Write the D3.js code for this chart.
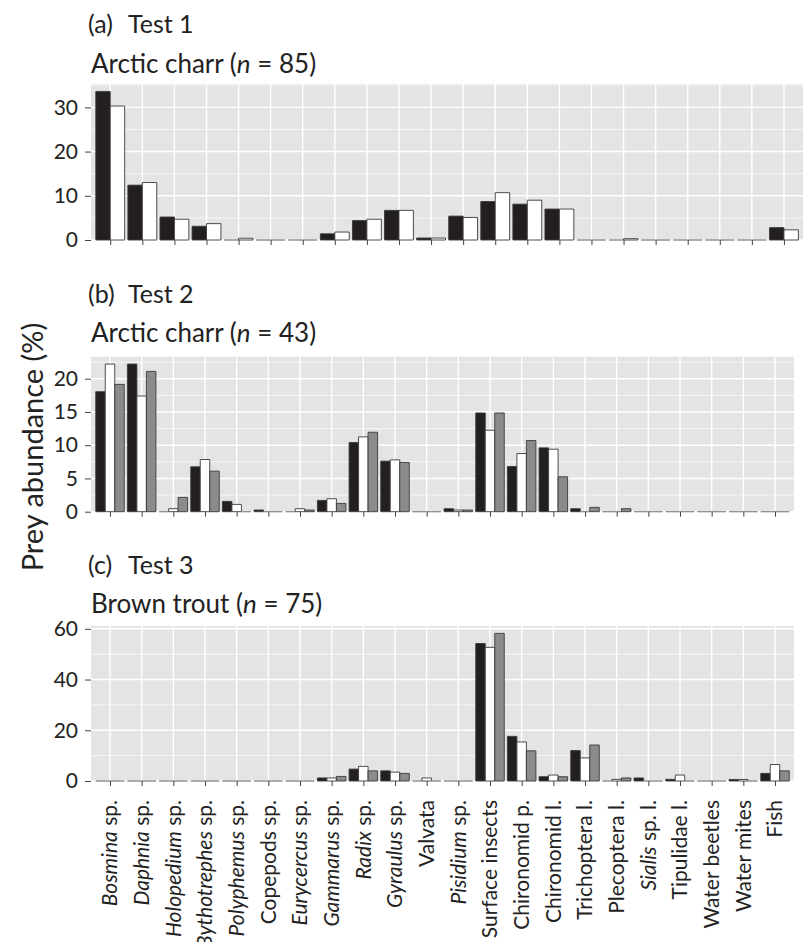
<!DOCTYPE html>
<html>
<head>
<meta charset="utf-8">
<script src="https://cdn.jsdelivr.net/npm/d3@7"></script>
<style>
  body { margin: 0; background: #fff; }
  svg { font-family: Lato, sans-serif; display: block; }
</style>
</head>
<body>
<svg id="chart" width="803" height="942"></svg>
<script>
const categories = ['Bosmina sp.', 'Daphnia sp.', 'Holopedium sp.', 'Bythotrephes sp.', 'Polyphemus sp.',
  'Copepods sp.', 'Eurycercus sp.', 'Gammarus sp.', 'Radix sp.', 'Gyraulus sp.', 'Valvata', 'Pisidium sp.',
  'Surface insects', 'Chironomid p.', 'Chironomid l.', 'Trichoptera l.', 'Plecoptera l.', 'Sialis sp. l.',
  'Tipulidae l.', 'Water beetles', 'Water mites', 'Fish']
const italicWords = ['Bosmina', 'Daphnia', 'Holopedium', 'Bythotrephes', 'Polyphemus', 'Eurycercus',
  'Gammarus', 'Radix', 'Gyraulus', 'Pisidium', 'Sialis']

// test 1, arctic charr, two series
const test1Black = [33.6, 12.4, 5.2, 3.1, 0, 0, 0, 1.4, 4.4, 6.7, 0.45, 5.4, 8.7, 8.1, 7.0, 0, 0, 0, 0, 0, 0, 2.8]
const test1White = [30.3, 13.0, 4.7, 3.7, 0.4, 0, 0, 1.8, 4.7, 6.7, 0.45, 5.1, 10.7, 9.0, 7.0, 0, 0.3, 0, 0, 0, 0, 2.3]

// test 2, arctic charr, three series
const test2Black = [18.05, 22.2, 0, 6.75, 1.55, 0.25, 0, 1.7, 10.4, 7.6, 0, 0.45, 14.85, 6.8, 9.6, 0.45, 0, 0, 0, 0, 0, 0]
const test2White = [22.2, 17.4, 0.45, 7.85, 1.1, 0, 0.45, 1.95, 11.25, 7.8, 0, 0.25, 12.25, 8.75, 9.4, 0, 0, 0, 0, 0, 0, 0]
const test2Gray = [19.15, 21.1, 2.15, 6.1, 0, 0, 0.25, 1.25, 11.95, 7.4, 0, 0.25, 14.85, 10.7, 5.25, 0.65, 0.45, 0, 0, 0, 0, 0]

// test 3, brown trout, three series
const test3Black = [0, 0, 0, 0, 0, 0, 0, 1.2, 4.7, 4.0, 0, 0, 54.2, 17.6, 1.7, 12.0, 0, 1.2, 0.65, 0, 0.6, 3.0]
const test3White = [0, 0, 0, 0, 0, 0, 0, 1.2, 5.75, 3.5, 1.2, 0, 52.7, 15.4, 2.35, 9.1, 0.65, 0, 2.35, 0, 0.6, 6.5]
const test3Gray = [0, 0, 0, 0, 0, 0, 0, 1.8, 4.0, 3.0, 0, 0, 58.2, 11.9, 1.7, 14.2, 1.2, 0, 0, 0, 0, 4.0]

const test1Ticks = [0, 10, 20, 30]
const test2Ticks = [0, 5, 10, 15, 20]
const test3Ticks = [0, 20, 40, 60]

const fills = ['#231f20', '#ffffff', '#8b8b8d']

const svg = d3.select('#chart')

const panels = [
  { tag: '(a)', test: 'Test 1', fish: 'Arctic charr', n: 85, series: [test1Black, test1White],
    ticks: test1Ticks, top: 84, bottom: 240, right: 803.2, titleY: 33, subY: 73 },
  { tag: '(b)', test: 'Test 2', fish: 'Arctic charr', n: 43, series: [test2Black, test2White, test2Gray],
    ticks: test2Ticks, top: 356.7, bottom: 511.7, right: 794, titleY: 303, subY: 342 },
  { tag: '(c)', test: 'Test 3', fish: 'Brown trout', n: 75, series: [test3Black, test3White, test3Gray],
    ticks: test3Ticks, top: 626, bottom: 781, right: 794, titleY: 574, subY: 613, labels: true }
]

panels.forEach((p) => drawPanel(p))

function drawPanel(p) {
  var x = d3.scalePoint().domain(categories).range([91, p.right]).padding(0.6)
  var ymax = d3.max(p.series, (s) => d3.max(s)) * 1.05
  var y = d3.scaleLinear().domain([0, ymax]).range([p.bottom, p.top])
  var step = x.step()
  var bw = step * 0.9 / p.series.length

  var g = svg.append('g')

  // titles
  g.append('text').attr('x', 88).attr('y', p.titleY)
    .attr('font-size', 25).attr('fill', '#222').text(p.tag)
  g.append('text').attr('x', 128).attr('y', p.titleY)
    .attr('font-size', 25).attr('fill', '#222').text(p.test)
  var sub = g.append('text').attr('x', 91).attr('y', p.subY)
    .attr('font-size', 26).attr('fill', '#222')
  sub.append('tspan').text(p.fish + ' (')
  sub.append('tspan').attr('font-style', 'italic').text('n')
  sub.append('tspan').text(' = ' + p.n + ')')

  // background and grid
  g.append('rect')
    .attr('x', 91).attr('y', p.top)
    .attr('width', p.right - 91).attr('height', p.bottom - p.top)
    .attr('fill', '#e4e4e5')

  var minor = d3.range(1, p.ticks.length).map((i) => (p.ticks[i - 1] + p.ticks[i]) / 2)
  minor.push(p.ticks[p.ticks.length - 1] + (p.ticks[1] - p.ticks[0]) / 2)

  g.append('g').selectAll('line')
    .data(minor.filter((v) => v < ymax))
    .enter().append('line')
    .attr('x1', 91).attr('x2', p.right)
    .attr('y1', (d) => y(d)).attr('y2', (d) => y(d))
    .attr('stroke', '#fff').attr('stroke-width', 0.7)

  g.append('g').selectAll('line')
    .data(p.ticks)
    .enter().append('line')
    .attr('x1', 91).attr('x2', p.right)
    .attr('y1', (d) => y(d)).attr('y2', (d) => y(d))
    .attr('stroke', '#fff').attr('stroke-width', 1.4)

  g.append('g').selectAll('line')
    .data(categories)
    .enter().append('line')
    .attr('x1', (d) => x(d)).attr('x2', (d) => x(d))
    .attr('y1', p.top).attr('y2', p.bottom)
    .attr('stroke', '#fff').attr('stroke-width', 1.4)

  // bars, drawn as paths so zero values still show their outline
  p.series.forEach((s, k) => {
    g.append('g').selectAll('path')
      .data(s)
      .enter().append('path')
      .attr('d', (v, i) => {
        var x0 = x(categories[i]) - step * 0.45 + k * bw
        var y0 = y(0)
        var y1 = y(v)
        return `M${x0},${y0}V${y1}H${x0 + bw}V${y0}Z`
      })
      .attr('fill', fills[k])
      .attr('stroke', (v) => v > 0 ? '#3a3a3a' : '#8a8a8a')
      .attr('stroke-width', 0.9)
  })

  // axes
  var yAxis = g.append('g')
    .attr('transform', 'translate(91,0)')
    .call(d3.axisLeft(y).tickValues(p.ticks).tickSize(6).tickPadding(7))
  yAxis.select('.domain').remove()
  yAxis.selectAll('.tick line').attr('stroke', '#444')
  yAxis.selectAll('.tick text').attr('font-size', 21).attr('font-family', 'Lato, sans-serif').attr('fill', '#222')

  var xAxis = g.append('g')
    .attr('transform', `translate(0,${p.bottom})`)
    .call(d3.axisBottom(x).tickSize(5).tickFormat(''))
  xAxis.select('.domain').remove()
  xAxis.selectAll('.tick line').attr('stroke', '#444')

  if (p.labels) {
    var lab = g.append('g').selectAll('text')
      .data(categories)
      .enter().append('text')
      .attr('transform', (d) => `translate(${x(d)},800) rotate(-90)`)
      .attr('text-anchor', 'end')
      .attr('dy', '0.35em')
      .attr('font-size', 21)
      .attr('fill', '#222')
    lab.each(function(d) {
      var words = d.split(' ')
      var el = d3.select(this)
      if (italicWords.includes(words[0])) {
        el.append('tspan').attr('font-style', 'italic').text(words[0])
        el.append('tspan').text(' ' + words.slice(1).join(' '))
      } else {
        el.text(d)
      }
    })
  }
}

svg.append('text')
  .attr('transform', 'translate(43,447) rotate(-90)')
  .attr('text-anchor', 'middle')
  .attr('font-size', 29)
  .attr('fill', '#222')
  .text('Prey abundance (%)')
</script>
</body>
</html>
